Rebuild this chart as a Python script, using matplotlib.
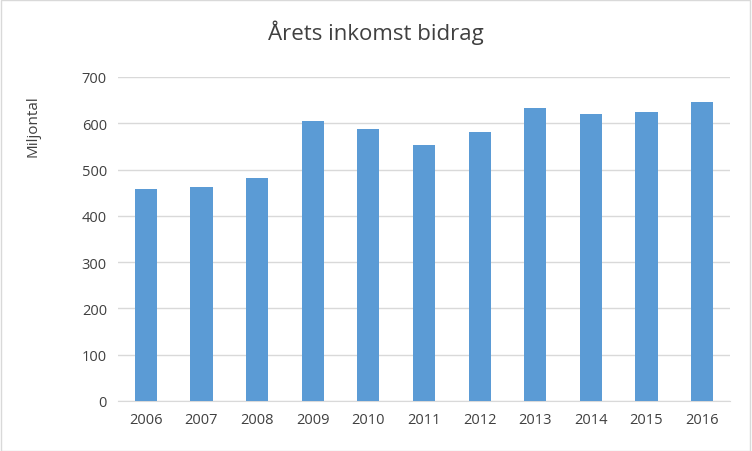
import matplotlib
matplotlib.use("Agg")
import matplotlib.pyplot as plt

years = ["2006","2007","2008","2009","2010","2011","2012","2013","2014","2015","2016"]
values = [457, 463, 481, 606, 587, 554, 582, 634, 621, 625, 645]

plt.rcParams['font.family'] = ['Open Sans', 'DejaVu Sans']
fig = plt.figure(figsize=(7.52, 4.52), dpi=100)
ax = fig.add_axes([118/752, 50/452, 612/752, 324/452])
ax.bar(range(len(years)), values, width=0.4, color="#5B9BD5", zorder=3)
ax.set_xlim(-0.5, len(years)-0.5)
ax.set_ylim(0, 700)
ax.set_yticks(range(0, 701, 100))
ax.set_xticks(range(len(years)))
ax.set_xticklabels(years)
ax.grid(axis='y', color="#D9D9D9", linewidth=1, zorder=0)
for s in ['top', 'right', 'left']:
    ax.spines[s].set_visible(False)
ax.spines['bottom'].set_color("#D9D9D9")
ax.tick_params(axis='both', length=0, labelsize=10.5, colors="#404040", pad=8)
ax.set_ylabel("Miljontal", fontsize=11, color="#404040")
ax.yaxis.set_label_coords(-0.127, 0.85)
fig.suptitle("Årets inkomst bidrag", fontsize=16, color="#404040", y=0.955)
fig.patches.append(plt.Rectangle((0.001, 0.001), 0.997, 0.997, transform=fig.transFigure,
                                 fill=False, edgecolor="#D9D9D9", linewidth=1))
fig.savefig("out.png", dpi=100)
